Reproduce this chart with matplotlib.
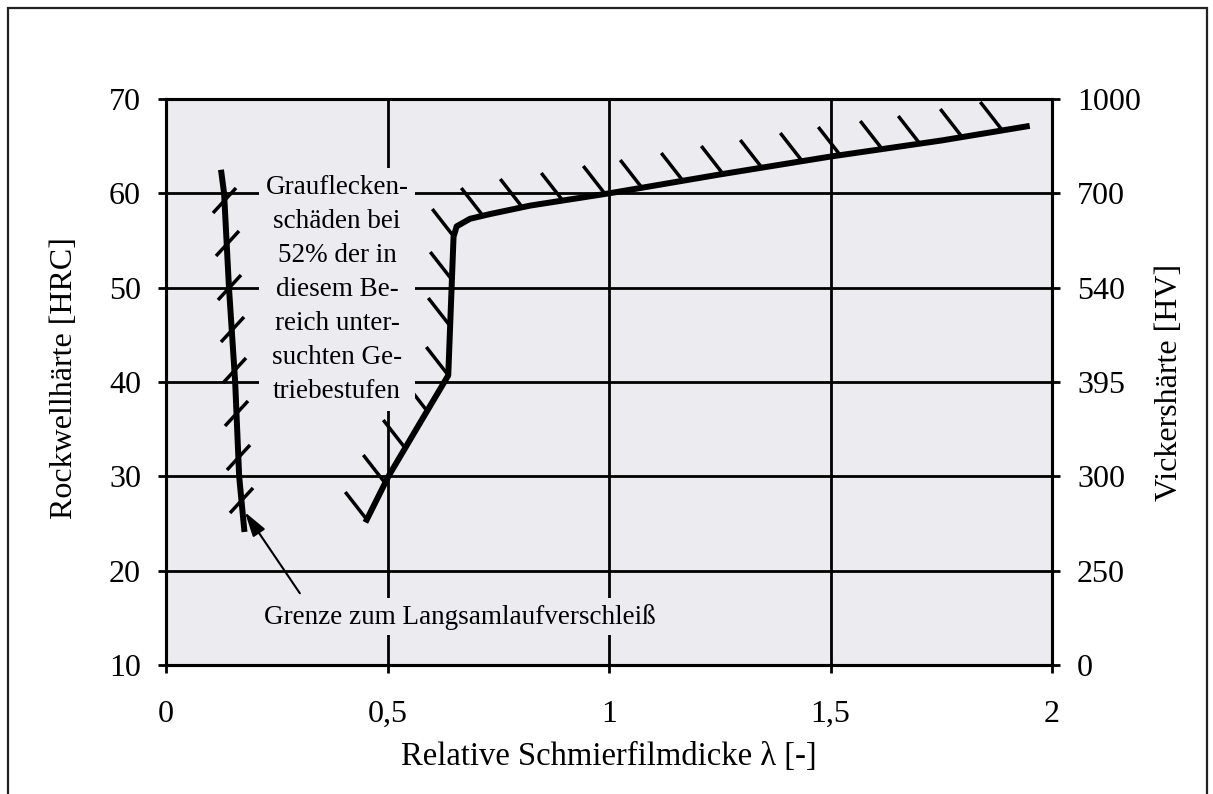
import numpy as np
import matplotlib
matplotlib.use("Agg")
import matplotlib.pyplot as plt
from matplotlib.path import Path
from matplotlib.patches import Rectangle

plt.rcParams['font.family'] = ['Liberation Serif', 'DejaVu Serif']
plt.rcParams['font.size'] = 23

# Boundary to low-speed wear (left curve)
lam_wear = [0.124, 0.131, 0.142, 0.156, 0.165, 0.177]
hrc_wear = [62.5, 60.0, 50.0, 40.0, 30.0, 24.1]
hrc_wear_hatch = [59.3, 54.7, 50.1, 45.6, 41.3, 36.7, 32.0, 27.5]

# Micropitting boundary (right curve)
lam_pit = [0.453, 0.502, 0.570, 0.637, 0.649, 0.656, 0.686, 0.731, 0.822,
           1.000, 1.250, 1.500, 1.750, 1.943]
hrc_pit = [25.4, 30.0, 35.4, 40.7, 55.4, 56.5, 57.3, 57.8, 58.7,
           60.0, 62.0, 63.9, 65.6, 67.1]
lam_pit_hatch_low = [0.453, 0.494, 0.540, 0.589, 0.637, 0.641, 0.645, 0.649]
hrc_pit_hatch_low = [25.4, 29.3, 33.0, 36.9, 40.7, 45.9, 50.8, 55.4]
lam_pit_hatch_up = [0.716, 0.803, 0.896, 0.991, 1.074, 1.167, 1.257, 1.345,
                    1.435, 1.521, 1.616, 1.702, 1.797, 1.887]

# Axis ticks
x_ticks = [0, 0.5, 1, 1.5, 2]
x_labels = ['0', '0,5', '1', '1,5', '2']
hrc_ticks = [10, 20, 30, 40, 50, 60, 70]
hv_labels = ['0', '250', '300', '395', '540', '700', '1000']

note_size = 19.5

fig = plt.figure(figsize=(12.13, 7.94), dpi=100)
ax = fig.add_axes([0.1369, 0.1625, 0.7304, 0.7128])
ax.set_facecolor('#ebebf0')
ax.set_xlim(0, 2)
ax.set_ylim(10, 70)
ax.set_xticks(x_ticks)
ax.set_xticklabels(x_labels)
ax.set_yticks(hrc_ticks)
ax.set_axisbelow(True)
ax.grid(True, color='black', lw=2)
for sp in ax.spines.values():
    sp.set_linewidth(2.2)
    sp.set_color('black')
ax.tick_params(axis='both', direction='out', length=6, width=2, colors='black')
ax.tick_params(axis='x', pad=19)
ax.tick_params(axis='y', pad=12)

# Main curves
ax.plot(lam_wear, hrc_wear, color='black', lw=4.3, solid_capstyle='butt', zorder=2)
ax.plot(lam_pit, hrc_pit, color='black', lw=4.3, solid_joinstyle='round', zorder=2)

# Hatch marks
cross = Path([(-0.92, -1.0), (0.92, 1.0)], [Path.MOVETO, Path.LINETO])
lam_wear_hatch = np.interp(hrc_wear_hatch, hrc_wear[::-1], lam_wear[::-1])
ax.plot(lam_wear_hatch, hrc_wear_hatch, ls='none', marker=cross, ms=18,
        mew=2.5, mec='black', mfc='none', zorder=2)

tick_ul = Path([(0.0, 0.0), (-0.78, 1.0)], [Path.MOVETO, Path.LINETO])
hrc_pit_hatch_up = np.interp(lam_pit_hatch_up, lam_pit[4:], hrc_pit[4:])
ax.plot(lam_pit_hatch_low + lam_pit_hatch_up,
        list(hrc_pit_hatch_low) + list(hrc_pit_hatch_up),
        ls='none', marker=tick_ul, ms=41, mew=2.5, mec='black', mfc='none', zorder=2)

# Annotations
ax.text(0.386, 49.8,
        'Grauflecken-\nschäden bei\n52% der in\ndiesem Be-\nreich unter-\nsuchten Ge-\ntriebestufen',
        ha='center', va='center', linespacing=1.48, fontsize=note_size, zorder=4,
        bbox=dict(boxstyle='square,pad=0.25', fc='#ebebf0', ec='none'))
ax.text(0.664, 15.1, 'Grenze zum Langsamlaufverschleiß', ha='center', va='center',
        fontsize=note_size, zorder=4,
        bbox=dict(boxstyle='square,pad=0.2', fc='#ebebf0', ec='none'))
ax.annotate('', xy=(0.178, 26.2), xytext=(0.302, 17.6),
            arrowprops=dict(arrowstyle='-|>,head_length=0.75,head_width=0.22',
                            mutation_scale=20, lw=1.5, color='black',
                            shrinkA=0, shrinkB=0), zorder=5)

# Labels
ax.set_xlabel('Relative Schmierfilmdicke λ [-]', fontsize=23.5)
ax.xaxis.label.set_va('center')
ax.xaxis.set_label_coords(0.5, -0.163)
ax.set_ylabel('Rockwellhärte [HRC]', fontsize=23)
ax.yaxis.label.set_va('center')
ax.yaxis.set_label_coords(-0.115, 0.507)

ax2 = ax.twinx()
ax2.set_ylim(10, 70)
ax2.set_yticks(hrc_ticks)
ax2.set_yticklabels(hv_labels)
ax2.tick_params(axis='y', direction='out', length=6, width=2, pad=12, colors='black')
for sp in ax2.spines.values():
    sp.set_linewidth(2.2)
ax2.set_ylabel('Vickershärte [HV]', fontsize=23)
ax2.yaxis.label.set_va('center')
ax2.yaxis.set_label_coords(1.133, 0.5)

# Outer frame
fig.patches.append(Rectangle((8 / 1213, -0.05), 1199 / 1213, 1.05 - 8 / 794,
                             transform=fig.transFigure, fill=False,
                             ec='#222222', lw=1.6))

fig.savefig('out.png', dpi=100)
